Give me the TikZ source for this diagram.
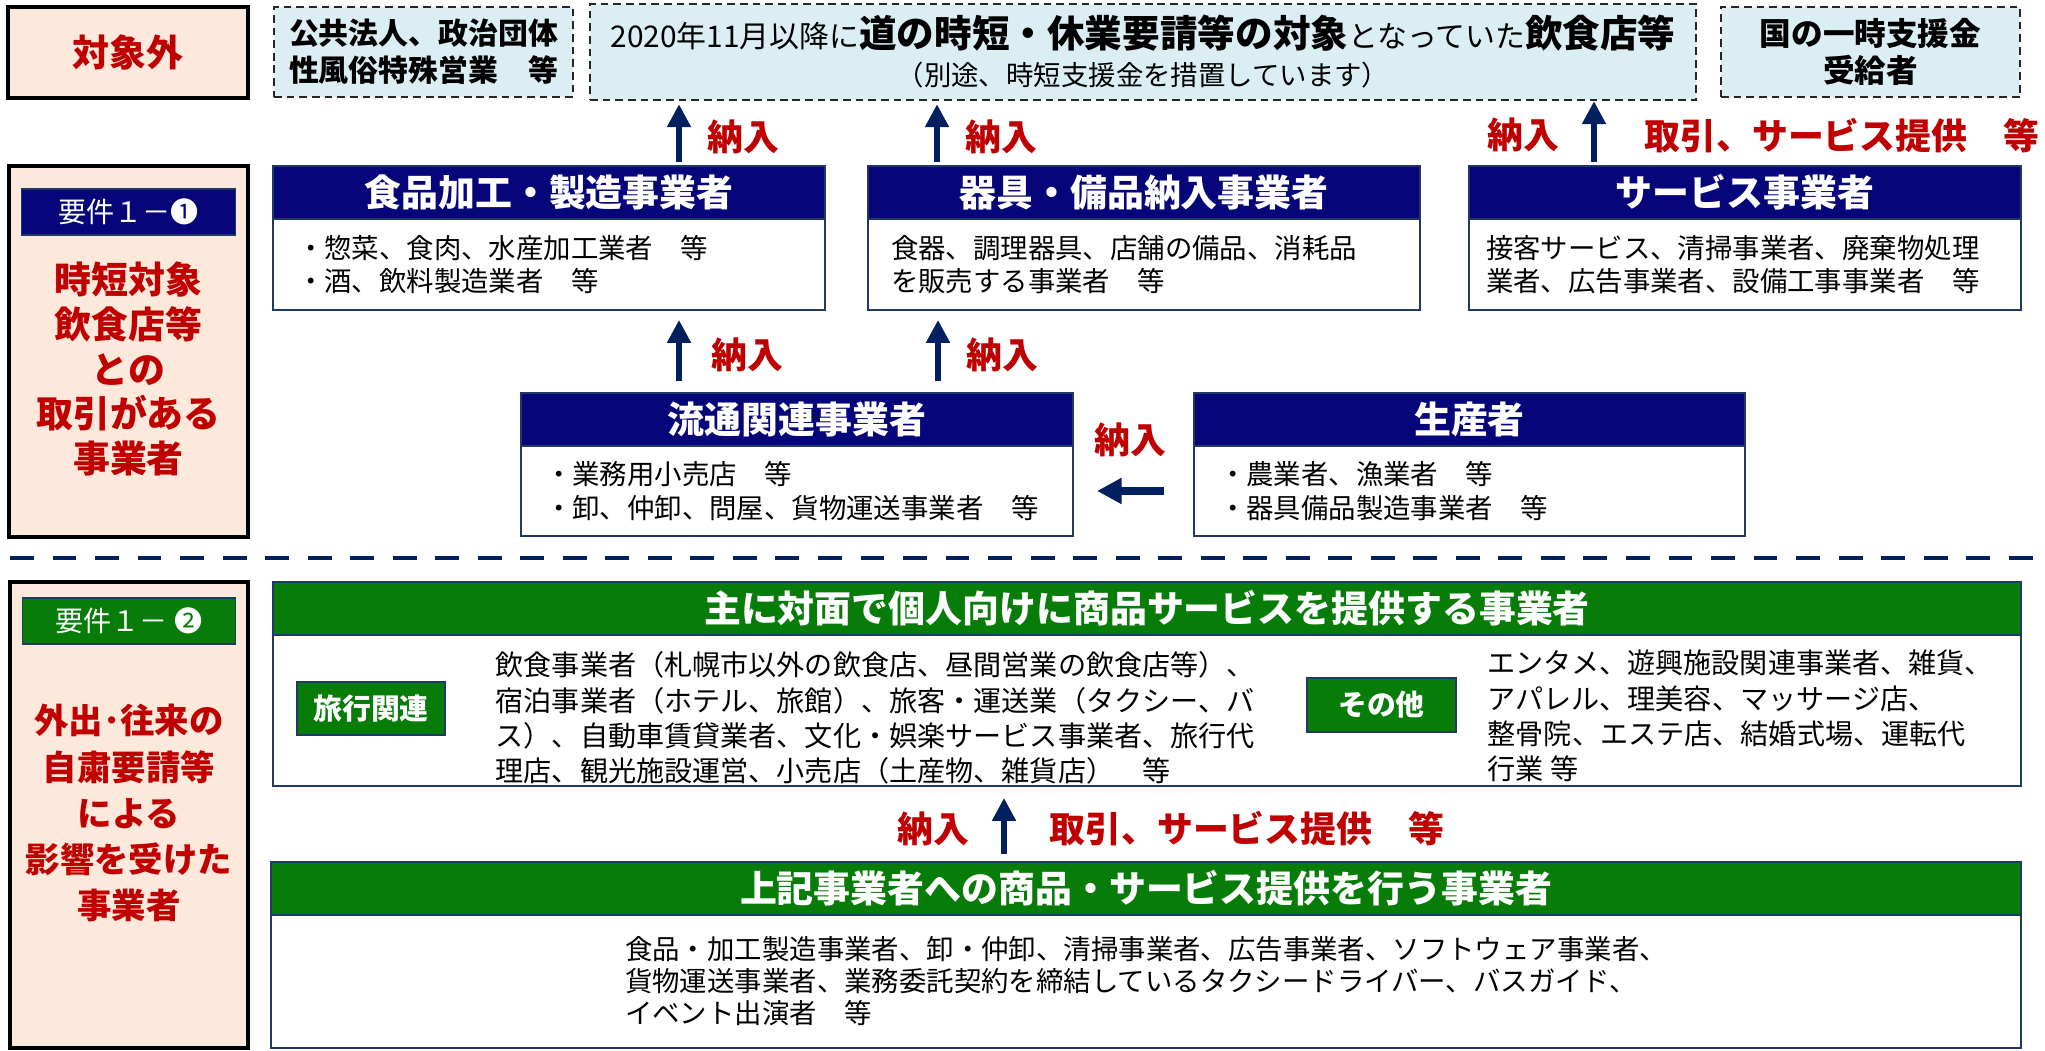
\documentclass[tikz,border=0pt]{standalone}
\usepackage{fontspec}
\setmainfont{Noto Sans CJK JP}
\usetikzlibrary{positioning, arrows.meta, calc}
\definecolor{cNavy}{HTML}{06067A}
\definecolor{cLine}{HTML}{1F3864}
\definecolor{cArrow}{HTML}{002060}
\definecolor{cRed}{HTML}{C00000}
\definecolor{cGreen}{HTML}{087C08}
\definecolor{cPink}{HTML}{FDE9DB}
\definecolor{cSky}{HTML}{DBEEF3}

\begin{document}
\begin{tikzpicture}[
    x=0.1mm, y=-0.1mm,
    >=Latex,
    % --- Box styles ---
    sidebox/.style={draw=black, fill=cPink, line width=1pt, outer sep=0pt},
    excl/.style={
        draw=black!85, fill=cSky, dash pattern=on 2.2pt off 1.4pt,
        line width=0.5pt, minimum height=9mm, align=center, outer sep=0pt,
        font=\fontsize{8.5}{10.5}\selectfont\bfseries
    },
    hdr/.style={
        draw=cLine, fill=cNavy, text=white, line width=0.6pt,
        inner sep=0pt, outer sep=0pt, minimum height=5.3mm,
        font=\fontsize{10.5}{12}\selectfont\bfseries
    },
    ghdr/.style={hdr, fill=cGreen},
    bodybox/.style={
        draw=cLine, fill=white, line width=0.6pt, outer sep=0pt,
        inner ysep=0pt, align=left, font=\fontsize{7.8}{9.5}\selectfont
    },
    tagbox/.style={
        draw=cLine, fill=cNavy, text=white, line width=0.5pt,
        inner sep=0pt, font=\fontsize{8}{9}\selectfont
    },
    gtag/.style={tagbox, fill=cGreen, font=\fontsize{8.2}{9}\selectfont\bfseries},
    txt/.style={align=left, inner sep=0pt, font=\fontsize{8}{10}\selectfont},
    sidetxt/.style={
        text=cRed, align=center, inner sep=0pt,
        font=\fontsize{10.5}{12.7}\selectfont\bfseries
    },
    % --- Arrow styles ---
    uparr/.style={-{Triangle[length=6.5pt, width=6.5pt]}, line width=1.5pt, draw=cArrow},
    thickarr/.style={-{Triangle[length=7pt, width=7pt]}, line width=2.3pt, draw=cArrow},
    sepline/.style={draw=cArrow, line width=1.4pt, dash pattern=on 6.8pt off 5.3pt},
    % --- Label styles ---
    lbl/.style={text=cRed, inner sep=0pt, font=\fontsize{10.2}{12}\selectfont\bfseries},
]

\path[use as bounding box, fill=white] (0,0) rectangle (2045,1051);

% =============================================
% TOP ROW: out of scope
% =============================================

\node[sidebox, minimum width=24mm, minimum height=9.1mm, text=cRed,
      font=\fontsize{10.5}{12}\selectfont\bfseries] (outside) at (128,52.5) {対象外};

\node[excl, minimum width=29.9mm] (pubcorp) at (423.5,52) {
    公共法人、政治団体\\性風俗特殊営業　等
};

\node[excl, minimum width=110.6mm, font=\fontsize{8.5}{10.8}\selectfont] (eatery) at (1143,52) {
    2020年11月以降に{\fontsize{10.7}{10.8}\selectfont\bfseries 道の時短・休業要請等の対象}となっていた{\fontsize{10.7}{10.8}\selectfont\bfseries 飲食店等}\\
    {\fontsize{7.8}{10.8}\selectfont （別途、時短支援金を措置しています）}
};

\node[excl, minimum width=29.9mm, font=\fontsize{9}{10.5}\selectfont\bfseries] (govaid) at (1870.5,52) {
    国の一時支援金\\受給者
};

% =============================================
% REQUIREMENT 1-1 (upper half)
% =============================================

\node[sidebox, minimum width=23.9mm, minimum height=37.1mm] (req1) at (128.5,351.5) {};
\node[tagbox, minimum width=21.4mm, minimum height=4.6mm, below=2.2mm of req1.north] (req1tag) {要件１－❶};
\node[sidetxt] (req1txt) at ($(req1.center)+(0,17.5)$) {時短対象\\飲食店等\\との\\取引がある\\事業者};

% Row 1
\node[hdr, minimum width=55.2mm] (foodhd) at (549,192.5) {食品加工・製造事業者};
\node[bodybox, below=0pt of foodhd, text width=50.4mm, inner xsep=2.4mm, minimum height=9.1mm] (food) {
    ・惣菜、食肉、水産加工業者　等\\・酒、飲料製造業者　等
};

\node[hdr, minimum width=55.2mm] (equiphd) at (1144,192.5) {器具・備品納入事業者};
\node[bodybox, below=0pt of equiphd, text width=50.6mm, inner xsep=2.3mm, minimum height=9.1mm] (equip) {
    食器、調理器具、店舗の備品、消耗品\\を販売する事業者　等
};

\node[hdr, minimum width=55.2mm] (servhd) at (1745,192.5) {サービス事業者};
\node[bodybox, below=0pt of servhd, text width=51.8mm, inner xsep=1.7mm, minimum height=9.1mm] (serv) {
    接客サービス、清掃事業者、廃棄物処理\\業者、広告事業者、設備工事事業者　等
};

% Row 2
\node[hdr, minimum width=55.2mm] (disthd) at (797,419.5) {流通関連事業者};
\node[bodybox, below=0pt of disthd, text width=50.4mm, inner xsep=2.4mm, minimum height=9mm] (dist) {
    ・業務用小売店　等\\・卸、仲卸、問屋、貨物運送事業者　等
};

\node[hdr, minimum width=55.1mm] (prodhd) at (1469.5,419.5) {生産者};
\node[bodybox, below=0pt of prodhd, text width=50.1mm, inner xsep=2.5mm, minimum height=9mm] (prod) {
    ・農業者、漁業者　等\\・器具備品製造事業者　等
};

% =============================================
% ARROWS (upper half)
% =============================================

\draw[uparr] ($(foodhd.north)+(130,-4)$) -- ($(foodhd.north |- eatery.south)+(130,4)$)
    node[lbl, pos=0.44, right=2.6mm] {納入};
\draw[uparr] ($(equiphd.north)+(-207,-4)$) -- ($(equiphd.north |- eatery.south)+(-207,4)$)
    node[lbl, pos=0.44, right=2.6mm] {納入};
\draw[uparr] ($(servhd.north)+(-151,-4)$) -- ($(servhd.north |- govaid.south)+(-151,4)$)
    node[lbl, pos=0.44, left=3.2mm] {納入}
    node[lbl, pos=0.44, right=4.8mm] {取引、サービス提供　等};

\draw[uparr] ($(disthd.north)+(-118,-12)$) -- ($(disthd.north |- food.south)+(-118,10)$)
    node[lbl, pos=0.42, right=3mm] {納入};
\draw[uparr] ($(disthd.north)+(141,-12)$) -- ($(disthd.north |- food.south)+(141,10)$)
    node[lbl, pos=0.42, right=2.6mm] {納入};

\draw[thickarr] ($(prod.west)+(-30,0)$) -- ($(dist.east)+(24,0)$)
    node[lbl, midway, above=3mm] {納入};

% Separator
\draw[sepline] (10,558) -- (2040,558);

% =============================================
% REQUIREMENT 1-2 (lower half)
% =============================================

\node[sidebox, minimum width=23.8mm, minimum height=46.6mm] (req2) at (129,815) {};
\node[tagbox, fill=cGreen, minimum width=21.3mm, minimum height=4.6mm, below=1.5mm of req2.north] (req2tag) {要件１－ ❷};
\node[sidetxt, font=\fontsize{9.8}{13.1}\selectfont\bfseries] (req2txt) at ($(req2.center)+(0,-2)$) {外出･往来の\\自粛要請等\\による\\影響を受けた\\事業者};

% Face-to-face businesses
\node[ghdr, minimum width=174.8mm] (facehd) at (1147,608.5) {主に対面で個人向けに商品サービスを提供する事業者};
\node[bodybox, below=0pt of facehd, minimum width=174.8mm, minimum height=15.1mm] (face) {};

\node[gtag, minimum width=14.8mm, minimum height=5.3mm] (travel) at (371,708.5) {旅行関連};
\node[txt, anchor=west] (traveltxt) at (495,718) {
    飲食事業者（札幌市以外の飲食店、昼間営業の飲食店等）、\\
    宿泊事業者（ホテル、旅館）、旅客・運送業（タクシー、バ\\
    ス）、自動車賃貸業者、文化・娯楽サービス事業者、旅行代\\
    理店、観光施設運営、小売店（土産物、雑貨店）　等
};

\node[gtag, minimum width=14.9mm, minimum height=5.4mm] (other) at (1381.5,705) {その他};
\node[txt, anchor=west] (othertxt) at (1487,716) {
    エンタメ、遊興施設関連事業者、雑貨、\\
    アパレル、理美容、マッサージ店、\\
    整骨院、エステ店、結婚式場、運転代\\
    行業 等
};

% Suppliers to them
\node[ghdr, minimum width=175mm] (supphd) at (1146,888.5) {上記事業者への商品・サービス提供を行う事業者};
\node[bodybox, below=0pt of supphd, minimum width=175mm, minimum height=13.3mm,
      font=\fontsize{7.8}{9.1}\selectfont] (supp) {
    食品・加工製造事業者、卸・仲卸、清掃事業者、広告事業者、ソフトウェア事業者、\\
    貨物運送事業者、業務委託契約を締結しているタクシードライバー、バスガイド、\\
    イベント出演者　等
};

\draw[uparr] ($(supphd.north)+(-142,-8)$) -- ($(supphd.north |- face.south)+(-142,12)$)
    node[lbl, pos=0.45, left=3.2mm] {納入}
    node[lbl, pos=0.45, right=4.3mm] {取引、サービス提供　等};

\end{tikzpicture}
\end{document}
